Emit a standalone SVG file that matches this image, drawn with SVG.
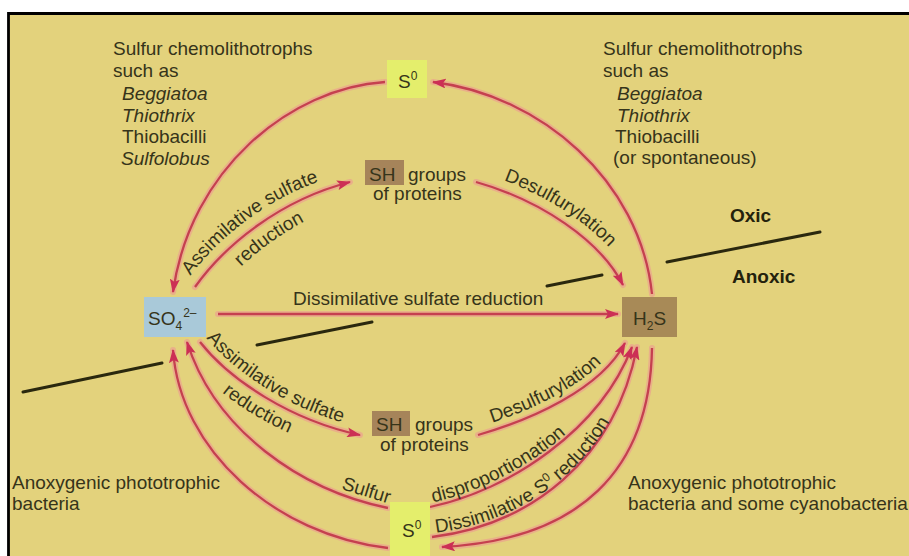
<svg xmlns="http://www.w3.org/2000/svg" width="909" height="556" viewBox="0 0 909 556">
<style>
text{font-family:"Liberation Sans",Arial,sans-serif;font-size:19px;fill:#36341a}
.it{font-style:italic}
.b{font-weight:bold;fill:#24220c}
.sm{font-size:12px}
.halo{fill:none;stroke:#eba48e;stroke-width:6;stroke-linecap:round;opacity:.75}
.arr{fill:none;stroke:#c5404f;stroke-width:2.3;marker-end:url(#ah)}
.div{stroke:#2a280e;stroke-width:3;stroke-linecap:round}
.box{stroke:none}
</style>
<defs>
<marker id="ah" markerUnits="userSpaceOnUse" markerWidth="14" markerHeight="10" refX="13" refY="5" orient="auto"><path d="M0,0 L14,5 L0,10 L3,5 Z" fill="#cc2f55"/></marker>
<path id="c1" d="M385,82 C290,88 190,170 173,292"/>
<path id="c2" d="M652,294 C640,180 540,95 433,82"/>
<path id="c3" d="M195,287 C225,245 280,200 350,182"/>
<path id="c4" d="M476,182 C540,200 600,240 623,285"/>
<path id="c5" d="M218,314 L618,314"/>
<path id="c6" d="M200,342 C230,380 290,420 360,435"/>
<path id="c7" d="M478,435 C530,420 600,390 625,343"/>
<path id="c8" d="M430,507 C510,490 600,430 632,347"/>
<path id="c9" d="M432,537 C530,525 615,460 637,347"/>
<path id="c10" d="M652,348 C650,470 580,540 442,547"/>
<path id="c11" d="M388,508 C300,490 215,430 187,342"/>
<path id="c12" d="M388,548 C275,535 180,450 173,350"/>
<path id="tp1" d="M188,279 C218,237 273,192 343,174"/>
<path id="tp2" d="M208,304 C238,262 293,217 363,199"/>
<path id="tp3" d="M481,173 C545,191 605,231 630,276"/>
<path id="tp4" d="M204,335 C234,373 294,413 364,428"/>
<path id="tp5" d="M188,359 C218,397 278,437 348,452"/>
<path id="tp6" d="M475,428 C527,413 597,383 622,336"/>
<path id="tp7" d="M430,503 C510,486 600,426 632,343"/>
<path id="tp8" d="M434,533 C532,521 617,456 639,343"/>
</defs>
<rect width="909" height="556" fill="#ffffff"/>
<rect x="9" y="14" width="900" height="542" fill="#e3d27c"/>
<path d="M8.5,556 L8.5,13.5 L909,13.5" fill="none" stroke="#000" stroke-width="2.8"/>

<g id="dividers">
<line class="div" x1="667" y1="262" x2="820" y2="232"/>
<line class="div" x1="547" y1="286" x2="602" y2="275"/>
<line class="div" x1="257" y1="345" x2="372" y2="322"/>
<line class="div" x1="23" y1="392" x2="162" y2="363"/>
</g>

<g id="connectors">
<use href="#c1" class="halo"/><use href="#c1" class="arr"/>
<use href="#c2" class="halo"/><use href="#c2" class="arr"/>
<use href="#c3" class="halo"/><use href="#c3" class="arr"/>
<use href="#c4" class="halo"/><use href="#c4" class="arr"/>
<use href="#c5" class="halo"/><use href="#c5" class="arr"/>
<use href="#c6" class="halo"/><use href="#c6" class="arr"/>
<use href="#c7" class="halo"/><use href="#c7" class="arr"/>
<use href="#c8" class="halo"/><use href="#c8" class="arr"/>
<use href="#c9" class="halo"/><use href="#c9" class="arr"/>
<use href="#c10" class="halo"/><use href="#c10" class="arr"/>
<use href="#c11" class="halo"/><use href="#c11" class="arr"/>
<use href="#c12" class="halo"/><use href="#c12" class="arr"/>
</g>

<g id="connector-labels">
<text><textPath href="#tp1" startOffset="4">Assimilative sulfate</textPath></text>
<text><textPath href="#tp2" startOffset="50">reduction</textPath></text>
<text><textPath href="#tp3" startOffset="24">Desulfurylation</textPath></text>
<text x="293" y="305">Dissimilative sulfate reduction</text>
<text><textPath href="#tp4" startOffset="4">Assimilative sulfate</textPath></text>
<text><textPath href="#tp5" startOffset="48">reduction</textPath></text>
<text><textPath href="#tp6" startOffset="18">Desulfurylation</textPath></text>
<text><textPath href="#tp7" startOffset="3">disproportionation</textPath></text>
<text><textPath href="#tp8" startOffset="2">Dissimilative S<tspan class="sm" dy="-7">0</tspan><tspan dy="7"> reduction</tspan></textPath></text>
<text transform="translate(341,489) rotate(17)">Sulfur</text>
</g>

<g id="node-s0-top">
<rect class="box" x="387" y="60" width="40" height="38" fill="#e4ee6c"/>
<text x="398" y="88" font-size="20">S<tspan class="sm" dy="-8">0</tspan></text>
</g>
<g id="node-so4">
<rect class="box" x="144" y="297" width="62" height="40" fill="#a9c9d9"/>
<text x="148" y="325">SO<tspan class="sm" dy="5">4</tspan><tspan class="sm" dy="-13" dx="1">2–</tspan></text>
</g>
<g id="node-h2s">
<rect class="box" x="622" y="297" width="55" height="40" fill="#a88a57"/>
<text x="633" y="325" font-size="18">H<tspan class="sm" dy="5">2</tspan><tspan dy="-5">S</tspan></text>
</g>
<g id="node-s0-bottom">
<rect class="box" x="390" y="502" width="40" height="54" fill="#e4ee6c"/>
<text x="402" y="537" font-size="20">S<tspan class="sm" dy="-8">0</tspan></text>
</g>
<g id="node-sh-top">
<rect class="box" x="365" y="160" width="39" height="25" fill="#a6845a"/>
<text x="369" y="181">SH</text>
<text x="408" y="181">groups</text>
<text x="373" y="200">of proteins</text>
</g>
<g id="node-sh-bottom">
<rect class="box" x="372" y="411" width="38" height="25" fill="#a6845a"/>
<text x="376" y="431">SH</text>
<text x="415" y="431">groups</text>
<text x="380" y="451">of proteins</text>
</g>

<g id="annotations">
<text x="113" y="55">Sulfur chemolithotrophs</text>
<text x="113" y="77">such as</text>
<text x="122" y="100" class="it">Beggiatoa</text>
<text x="122" y="122" class="it">Thiothrix</text>
<text x="122" y="143">Thiobacilli</text>
<text x="121" y="165" class="it">Sulfolobus</text>
<text x="603" y="55">Sulfur chemolithotrophs</text>
<text x="603" y="77">such as</text>
<text x="617" y="100" class="it">Beggiatoa</text>
<text x="617" y="122" class="it">Thiothrix</text>
<text x="615" y="143">Thiobacilli</text>
<text x="613" y="164">(or spontaneous)</text>
<text x="730" y="222" class="b">Oxic</text>
<text x="732" y="283" class="b">Anoxic</text>
<text x="12" y="489">Anoxygenic phototrophic</text>
<text x="12" y="510">bacteria</text>
<text x="628" y="489">Anoxygenic phototrophic</text>
<text x="628" y="510">bacteria and some cyanobacteria</text>
</g>
</svg>
